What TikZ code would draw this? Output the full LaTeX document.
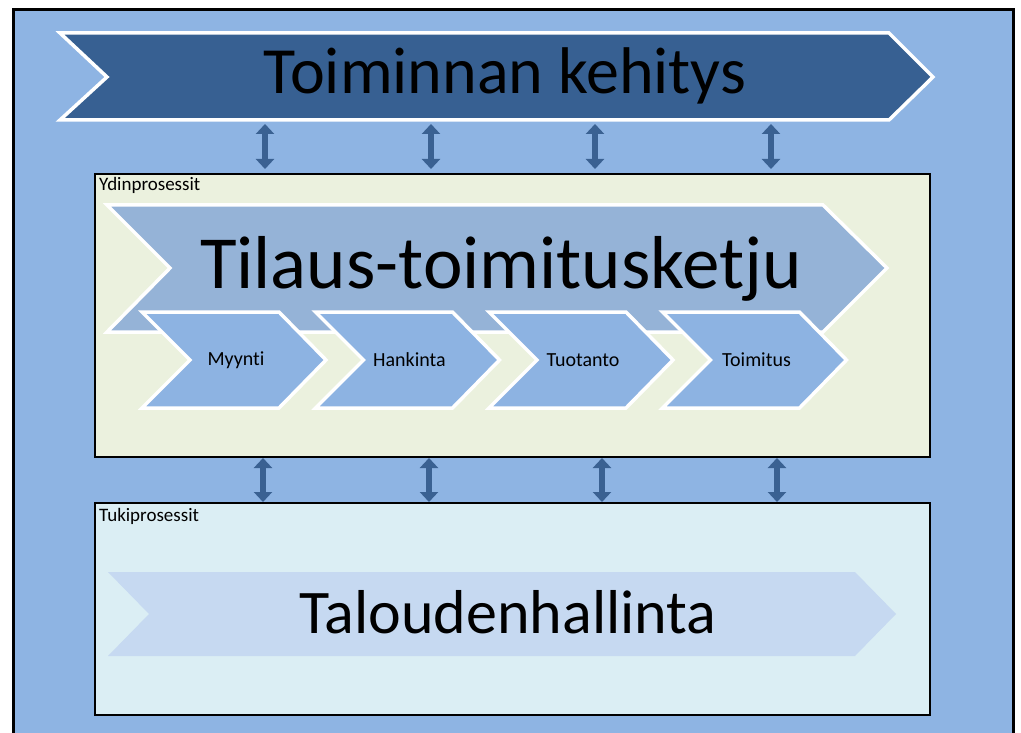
\documentclass[tikz,border=0pt]{standalone}
\usepackage{fontspec}
\setmainfont{Carlito}[Ligatures=NoCommon]
\usetikzlibrary{arrows.meta}
\definecolor{bgblue}{HTML}{8EB4E3}
\definecolor{darkblue}{HTML}{376092}
\definecolor{midblue}{HTML}{95B3D7}
\definecolor{stepblue}{HTML}{8DB3E2}
\definecolor{paleblue}{HTML}{C6D9F1}
\definecolor{coregreen}{HTML}{EBF1DE}
\definecolor{supportcyan}{HTML}{DBEEF4}
\definecolor{arrowblue}{HTML}{3A6192}
\tikzset{
  chevron/.style={draw=white, line width=3.5pt, line join=miter},
  procbox/.style={draw=black, line width=2pt},
  boxlabel/.style={anchor=north west, inner sep=0pt, font=\fontsize{19}{21}\selectfont},
  steplabel/.style={inner sep=0pt, font=\fontsize{20}{22}\selectfont},
  bigtitle/.style={inner sep=0pt, font=\fontsize{66}{78}\selectfont},
  link/.style={draw=arrowblue, line width=6.5pt,
    {Triangle[width=18pt,length=10pt]}-{Triangle[width=18pt,length=10pt]}},
}
\begin{document}
\begin{tikzpicture}[x=1pt, y=-1pt]
  \useasboundingbox (0,0) rectangle (1021,733);
  \fill[white] (0,0) rectangle (1021,733);
  % outer frame
  \fill[bgblue] (13,10) rectangle (1013,745);
  \draw[black, line width=3pt] (13,745) -- (13,10) -- (1013,10) -- (1013,745);

  % development banner
  \filldraw[chevron, fill=darkblue] (60,33) -- (889,33) -- (933,77) -- (889,120) -- (60,120) -- (107,77) -- cycle;
  \node[bigtitle] (dev) at (505,76) {Toiminnan kehitys};

  % core processes box
  \filldraw[procbox, fill=coregreen] (95,174) rectangle (930,457);
  \node[boxlabel] (corelbl) at (99,177) {Ydinprosessit};

  \filldraw[chevron, fill=midblue] (107,205) -- (823,205) -- (887,268) -- (823,332) -- (107,332) -- (170,268) -- cycle;
  \node[bigtitle, font=\fontsize{75}{88}\selectfont] (chain) at (501,269) {Tilaus-toimitusketju};

  % process steps
  \foreach \L/\name/\txt in {142/s1/Myynti, 315.5/s2/Hankinta, 489/s3/Tuotanto, 662.5/s4/Toimitus}{
    \filldraw[chevron, fill=stepblue] (\L,312) -- (\L+137,312) -- (\L+184,360) -- (\L+137,408) -- (\L,408) -- (\L+48,360) -- cycle;
    \node[steplabel] (\name) at (\L+94,360) {\txt};
  }

  % support processes box
  \filldraw[procbox, fill=supportcyan] (95,503) rectangle (930,715);
  \node[boxlabel] (suplbl) at (99,508) {Tukiprosessit};
  \fill[paleblue] (108,572) -- (855,572) -- (896,614) -- (855,656) -- (108,656) -- (149,614) -- cycle;
  \node[bigtitle, font=\fontsize{62}{72}\selectfont] (fin) at (508,612) {Taloudenhallinta};

  % links between banner and core processes
  \foreach \x/\i in {265/1, 431/2, 595/3, 771/4}{
    \coordinate (ta\i) at (\x,124);
    \coordinate (tb\i) at (\x,169);
    \draw[link] (ta\i) -- (tb\i);
  }
  % links between core and support processes
  \foreach \x/\i in {263/1, 429/2, 602/3, 777/4}{
    \coordinate (ba\i) at (\x,458);
    \coordinate (bb\i) at (\x,502);
    \draw[link] (ba\i) -- (bb\i);
  }
\end{tikzpicture}
\end{document}
